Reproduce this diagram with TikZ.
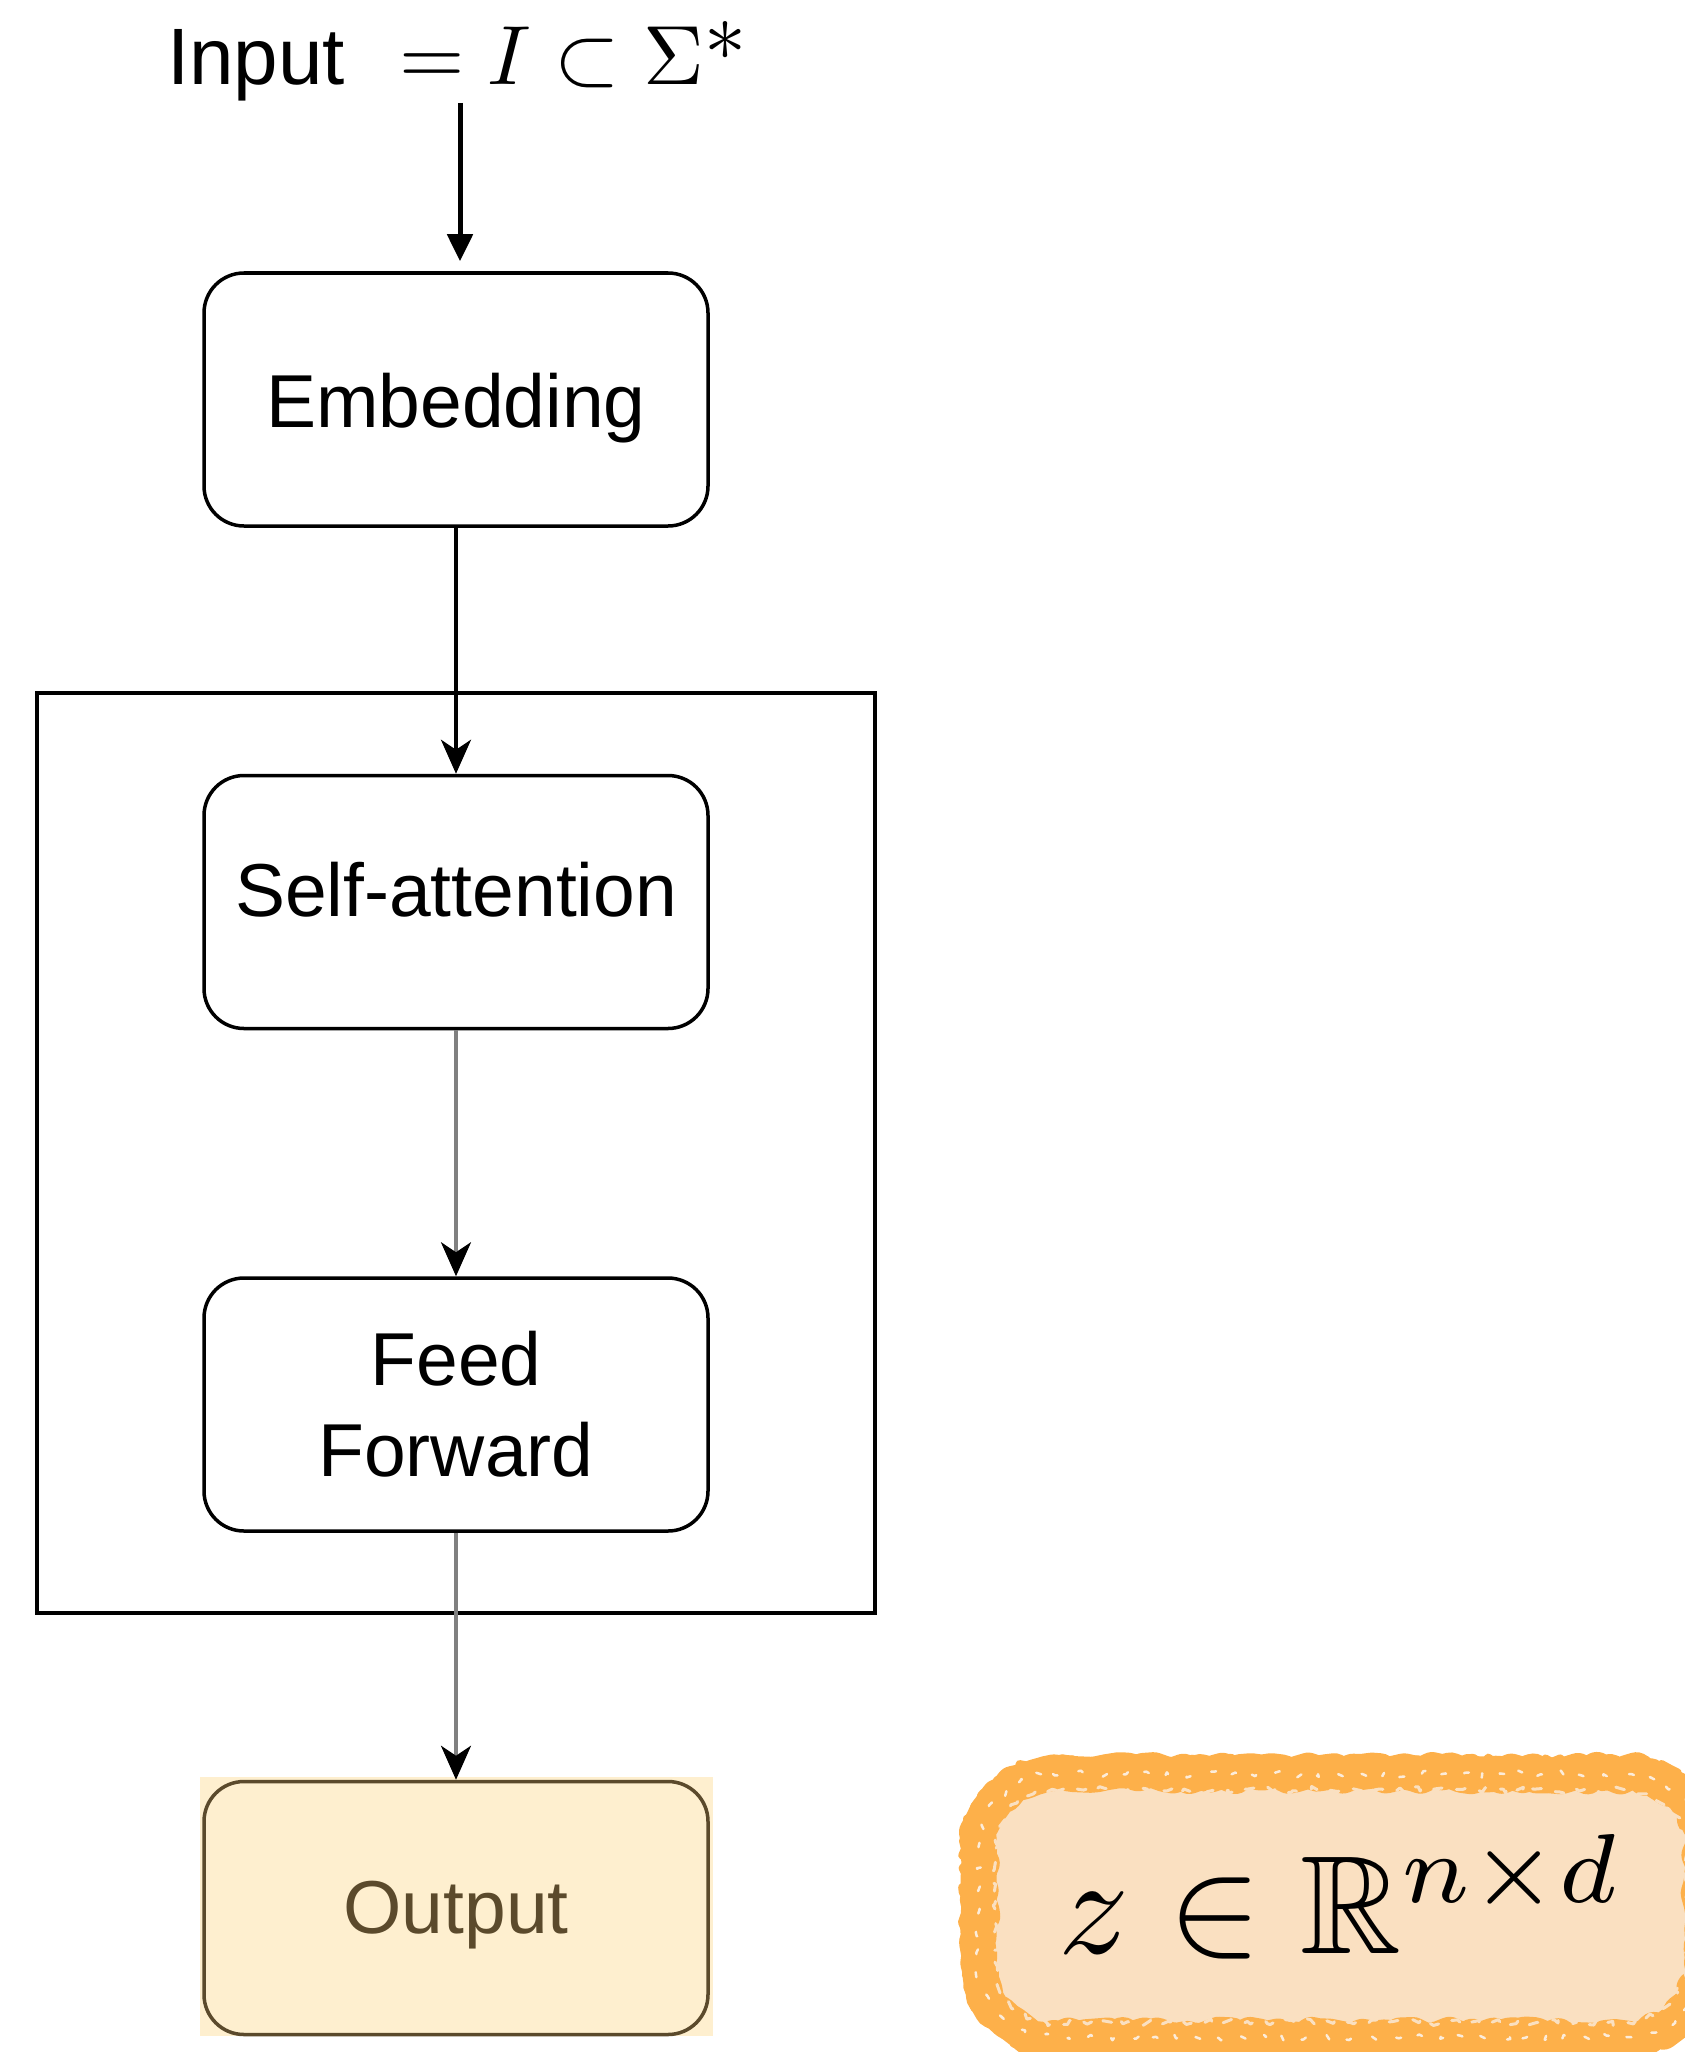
\documentclass[tikz,border=0pt]{standalone}
\usepackage{fontspec}
\usepackage{amssymb}
\usepackage{graphicx}
\usetikzlibrary{arrows.meta,decorations.pathmorphing}
\newfontfamily\sansfont{Liberation Sans}

\definecolor{creamfill}{HTML}{FEEFCF}
\definecolor{creamline}{HTML}{5B4A2C}
\definecolor{peachfill}{HTML}{FAE0C1}
\definecolor{blobline}{HTML}{FDB04A}

% rounded rectangle built from arcs: left, top, right, bottom, radius
\newcommand\blobrect[5]{%
  (#1+#5,#2) -- (#3-#5,#2) arc[start angle=90, end angle=0, radius=#5]
  -- (#3,#4+#5) arc[start angle=0, end angle=-90, radius=#5]
  -- (#1+#5,#4) arc[start angle=-90, end angle=-180, radius=#5]
  -- (#1,#2-#5) arc[start angle=180, end angle=90, radius=#5] -- cycle}

\tikzset{
  stagebox/.style={draw=black, line width=3.5pt, fill=white, rounded corners=40pt,
    minimum width=504pt, minimum height=253pt, inner sep=0pt, align=center,
    font=\sansfont\fontsize{75}{91}\selectfont},
  outbox/.style={stagebox, draw=creamline, fill=creamfill, text=creamline},
  blockframe/.style={draw=black, line width=3.5pt, minimum width=838pt,
    minimum height=920pt, inner sep=0pt},
  flow/.style={line width=3.5pt, draw=black,
    -{Stealth[length=34pt,width=30pt,inset=10pt,color=black]}},
  flowgray/.style={flow, draw=black!50},
  inarrow/.style={line width=5pt, -{Triangle[length=27pt,width=25pt]}},
  roughedge/.style={line join=round, line cap=round, decorate,
    decoration={random steps, segment length=#1, amplitude=3.5pt}},
}

\begin{document}
\begin{tikzpicture}[x=1pt,y=1pt]
  \useasboundingbox (0,0) rectangle (1685,-2052);
  \clip (0,0) rectangle (1685,-2052);

  % heading: the input string
  \node[anchor=base west, inner sep=0pt, font=\sansfont\fontsize{80}{90}\selectfont]
    (inlabel) at (167,-85) {Input};
  \node[anchor=base west, inner sep=0pt] (inmath) at (399,-85)
    {\scalebox{8.4}{$= I \subset \Sigma$*}};
  \coordinate (instart) at (460,-103);

  % encoder block frame
  \node[blockframe] (block) at (456,-1153) {};

  % stages
  \node[stagebox, text height=55pt, text depth=0pt] (emb) at (456,-399.5) {Embedding};
  \node[stagebox, text height=55pt, text depth=27pt] (sa) at (456,-902) {Self-attention};
  \node[stagebox] (ff) at (456,-1404.5) {Feed\\Forward};

  % output with its square backdrop
  \fill[creamfill] (200,-1777) rectangle (713,-2036);
  \node[outbox, text height=55pt, text depth=5pt] (out) at (456,-1908) {Output};

  % connectors
  \draw[inarrow, shorten >=10pt] (instart) -- (instart |- emb.north);
  \draw[flow] (emb.south) -- (sa.north);
  \draw[flowgray] (sa.south) -- (ff.north);
  \draw[flowgray] (ff.south) -- (out.north);

  % rough orange badge with the embedding space
  \pgfmathsetseed{11}
  \fill[peachfill] \blobrect{978}{-1772}{1702}{-2038}{75};
  \draw[blobline, line width=36pt, roughedge=9pt] \blobrect{979}{-1773}{1702}{-2038}{75};
  \draw[blobline, line width=8pt, roughedge=6pt] \blobrect{965}{-1761}{1716}{-2049}{88};
  \draw[peachfill, line width=3pt, roughedge=5pt, dash pattern=on 9pt off 15pt]
    \blobrect{995}{-1790}{1686}{-2022}{60};
  \draw[peachfill!60!white, line width=2.5pt, roughedge=4pt, dash pattern=on 5pt off 23pt]
    \blobrect{978}{-1774}{1702}{-2037}{75};
  \node[anchor=base west, inner sep=0pt] (zexpr) at (1058,-1953)
    {\scalebox{14}{$z \in \mathbb{R}^{n\times d}$}};
\end{tikzpicture}
\end{document}
